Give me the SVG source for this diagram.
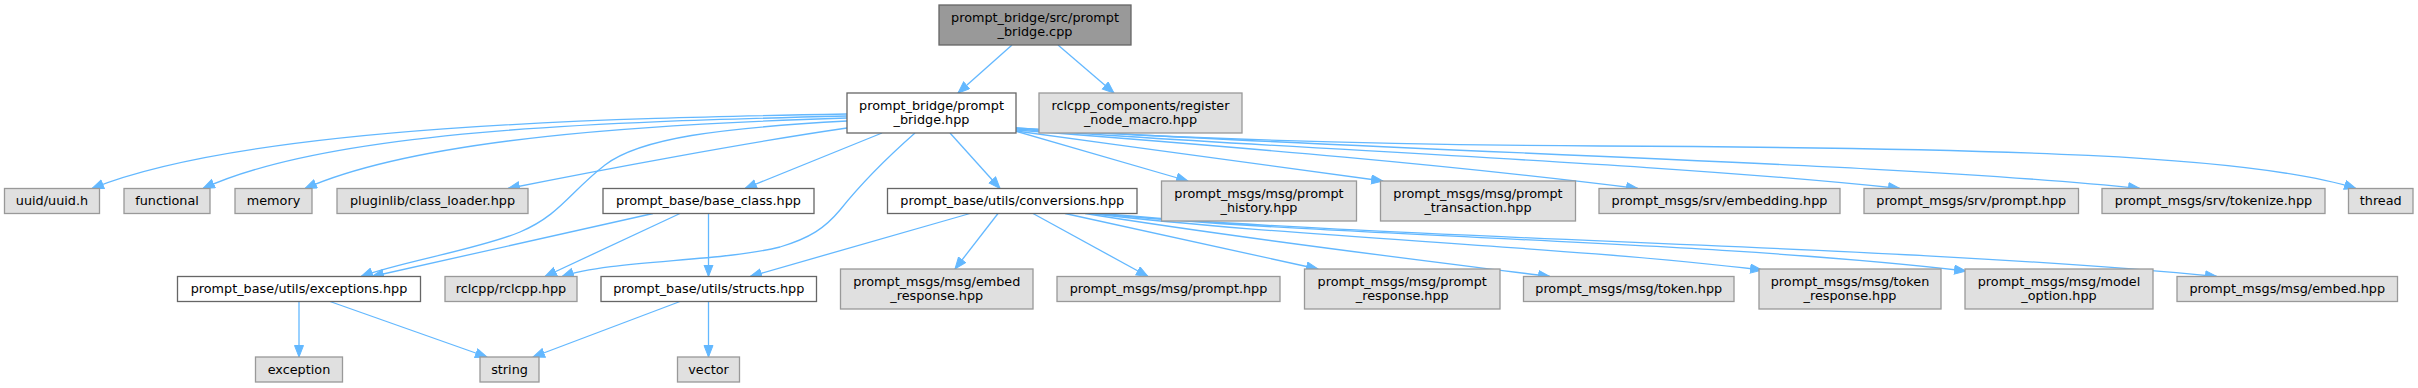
<svg xmlns="http://www.w3.org/2000/svg" width="2418" height="388" viewBox="0 0 2418 388">
<defs>
<style>
text{font-family:"DejaVu Sans","Liberation Sans",sans-serif;font-size:12.8px;fill:#000;text-anchor:middle}
.root rect{fill:#999999;stroke:#666666;stroke-width:1.3}
.main rect{fill:#ffffff;stroke:#666666;stroke-width:1.3}
.ext rect{fill:#e0e0e0;stroke:#999999;stroke-width:1.3}
.edges path{fill:none;stroke:#63b8ff;stroke-width:1.3;marker-end:url(#arr)}
</style>
<marker id="arr" markerUnits="userSpaceOnUse" markerWidth="14" markerHeight="12" refX="12" refY="5" orient="auto">
<path d="M0.5,0.5 L12,5 L0.5,9.5 z" fill="#63b8ff" stroke="#63b8ff" stroke-width="1"/>
</marker>
</defs>
<rect width="2418" height="388" fill="#ffffff"/>
<g class="edges">
<path d="M1012,45 L958,93"/>
<path d="M1058,45 L1114,93"/>
<path d="M847,114 C620,118 250,125 92,188.5"/>
<path d="M847,116 C600,122 330,130 203,188.5"/>
<path d="M847,118 C650,124 420,138 305,188.5"/>
<path d="M847,128 C750,142 600,170 508,188.5"/>
<path d="M847,121 C720,128 640,138 605,165 S560,215 520,232 S400,262 361,276.5"/>
<path d="M882,133 L745,188.5"/>
<path d="M915,133 C890,155 860,185 840,210 C825,228 810,238 780,247 C720,262 610,260 562,276.5"/>
<path d="M950,133 L1000,188.5"/>
<path d="M1015,131 L1188,181"/>
<path d="M1016,131 C1140,148 1270,166 1383,181"/>
<path d="M1016,130 C1250,148 1450,165 1638,188.5"/>
<path d="M1016,129 C1300,150 1650,162 1900,188.5"/>
<path d="M1016,128 C1400,152 1900,163 2140,188.5"/>
<path d="M1016,128 C1200,140 1400,145 1600,146 C2000,148 2250,155 2356,188.5"/>
<path d="M970,213.5 L750,276.5"/>
<path d="M998,213.5 L955,269"/>
<path d="M1033,213.5 L1148,276.5"/>
<path d="M1065,213.5 L1318,269"/>
<path d="M1085,213.5 C1250,240 1420,260 1550,276.5"/>
<path d="M1090,213.5 C1300,238 1550,245 1762,270"/>
<path d="M1095,213.5 C1350,238 1700,240 1966,271"/>
<path d="M1100,213.5 C1400,240 1900,245 2217,276.5"/>
<path d="M653,213.5 L372,276.5"/>
<path d="M680,213.5 L545,276.5"/>
<path d="M708.5,213.5 L708.5,276.5"/>
<path d="M299,301.5 L299,357"/>
<path d="M330,301.5 L487,357"/>
<path d="M680,301.5 L533,357"/>
<path d="M708.5,301.5 L708.5,357"/>
</g>
<g id="n_root" class="root"><rect x="939" y="5" width="192" height="40"/><text x="1035" y="21.5">prompt_bridge/src/prompt</text><text x="1035" y="36">_bridge.cpp</text></g>
<g id="n_pbh" class="main"><rect x="847" y="93" width="169" height="40"/><text x="931.5" y="109.5">prompt_bridge/prompt</text><text x="931.5" y="124">_bridge.hpp</text></g>
<g id="n_rcc" class="ext"><rect x="1039" y="93" width="203" height="40"/><text x="1140.5" y="109.5">rclcpp_components/register</text><text x="1140.5" y="124">_node_macro.hpp</text></g>
<g id="n_uuid" class="ext"><rect x="4.5" y="188.5" width="95" height="25"/><text x="52" y="205">uuid/uuid.h</text></g>
<g id="n_functional" class="ext"><rect x="124" y="188.5" width="86" height="25"/><text x="167" y="205">functional</text></g>
<g id="n_memory" class="ext"><rect x="235" y="188.5" width="77" height="25"/><text x="273.5" y="205">memory</text></g>
<g id="n_pluginlib" class="ext"><rect x="337" y="188.5" width="191" height="25"/><text x="432.5" y="205">pluginlib/class_loader.hpp</text></g>
<g id="n_base_class" class="main"><rect x="603" y="188.5" width="211" height="25"/><text x="708.5" y="205">prompt_base/base_class.hpp</text></g>
<g id="n_conversions" class="main"><rect x="887.5" y="188.5" width="249.5" height="25"/><text x="1012.25" y="205">prompt_base/utils/conversions.hpp</text></g>
<g id="n_history" class="ext"><rect x="1161.5" y="181" width="195" height="40"/><text x="1259" y="197.5">prompt_msgs/msg/prompt</text><text x="1259" y="212">_history.hpp</text></g>
<g id="n_transaction" class="ext"><rect x="1380.5" y="181" width="195" height="40"/><text x="1478" y="197.5">prompt_msgs/msg/prompt</text><text x="1478" y="212">_transaction.hpp</text></g>
<g id="n_embedding" class="ext"><rect x="1599" y="188.5" width="241" height="25"/><text x="1719.5" y="205">prompt_msgs/srv/embedding.hpp</text></g>
<g id="n_srv_prompt" class="ext"><rect x="1864" y="188.5" width="214.5" height="25"/><text x="1971.25" y="205">prompt_msgs/srv/prompt.hpp</text></g>
<g id="n_tokenize" class="ext"><rect x="2102" y="188.5" width="223" height="25"/><text x="2213.5" y="205">prompt_msgs/srv/tokenize.hpp</text></g>
<g id="n_thread" class="ext"><rect x="2348.5" y="188.5" width="64.5" height="25"/><text x="2380.75" y="205">thread</text></g>
<g id="n_exceptions" class="main"><rect x="177.5" y="276.5" width="243" height="25"/><text x="299" y="293">prompt_base/utils/exceptions.hpp</text></g>
<g id="n_rclcpp" class="ext"><rect x="445" y="276.5" width="132" height="25"/><text x="511" y="293">rclcpp/rclcpp.hpp</text></g>
<g id="n_structs" class="main"><rect x="601" y="276.5" width="215.5" height="25"/><text x="708.75" y="293">prompt_base/utils/structs.hpp</text></g>
<g id="n_embed_response" class="ext"><rect x="840.5" y="269" width="192.5" height="40"/><text x="936.75" y="285.5">prompt_msgs/msg/embed</text><text x="936.75" y="300">_response.hpp</text></g>
<g id="n_msg_prompt" class="ext"><rect x="1057" y="276.5" width="223" height="25"/><text x="1168.5" y="293">prompt_msgs/msg/prompt.hpp</text></g>
<g id="n_prompt_response" class="ext"><rect x="1304.5" y="269" width="195.5" height="40"/><text x="1402.25" y="285.5">prompt_msgs/msg/prompt</text><text x="1402.25" y="300">_response.hpp</text></g>
<g id="n_token" class="ext"><rect x="1523.5" y="276.5" width="210.5" height="25"/><text x="1628.75" y="293">prompt_msgs/msg/token.hpp</text></g>
<g id="n_token_response" class="ext"><rect x="1759" y="269" width="182" height="40"/><text x="1850" y="285.5">prompt_msgs/msg/token</text><text x="1850" y="300">_response.hpp</text></g>
<g id="n_model_option" class="ext"><rect x="1965" y="269" width="188" height="40"/><text x="2059" y="285.5">prompt_msgs/msg/model</text><text x="2059" y="300">_option.hpp</text></g>
<g id="n_embed" class="ext"><rect x="2177" y="276.5" width="220.5" height="25"/><text x="2287.25" y="293">prompt_msgs/msg/embed.hpp</text></g>
<g id="n_exception" class="ext"><rect x="255.5" y="357" width="87" height="25"/><text x="299" y="373.5">exception</text></g>
<g id="n_string" class="ext"><rect x="480" y="357" width="59" height="25"/><text x="509.5" y="373.5">string</text></g>
<g id="n_vector" class="ext"><rect x="677.5" y="357" width="62" height="25"/><text x="708.5" y="373.5">vector</text></g>
</svg>
